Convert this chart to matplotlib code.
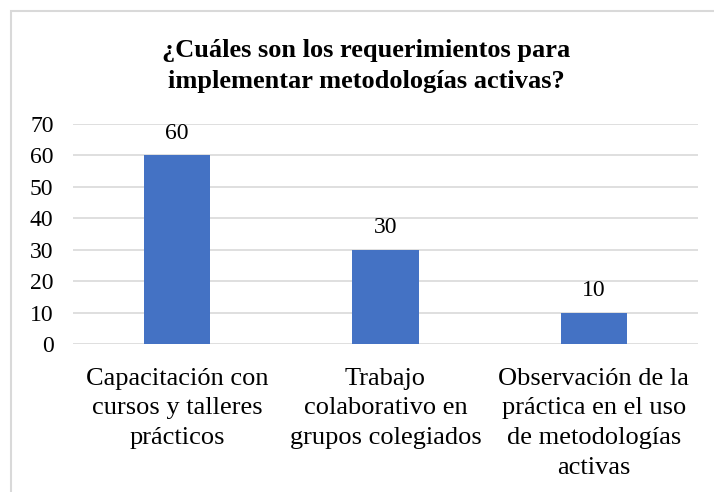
import matplotlib.pyplot as plt
from matplotlib.patches import Rectangle

categories = [
    "Capacitación con\ncursos y talleres\nprácticos",
    "Trabajo\ncolaborativo en\ngrupos colegiados",
    "Observación de la\npráctica en el uso\nde metodologías\nactivas",
]
values = [60, 30, 10]
yticks = [0, 10, 20, 30, 40, 50, 60, 70]
title = "¿Cuáles son los requerimientos para\nimplementar metodologías activas?"

plt.rcParams['font.family'] = ['Liberation Serif', 'DejaVu Serif']

W, H = 714, 492
fig = plt.figure(figsize=(W / 100, H / 100), dpi=100)

# chart frame (only left and top edges visible in the crop)
fig.patches.append(Rectangle((11 / W, -0.1), 1.2, (H - 11) / H + 0.1,
                             transform=fig.transFigure, fill=False,
                             edgecolor="#D9D9D9", linewidth=1.5))

ax = fig.add_axes([73 / W, (H - 344) / H, 625 / W, 220 / H])
x = range(len(categories))
bars = ax.bar(x, values, width=0.32, color="#4472C4", zorder=3)
for b, v in zip(bars, values):
    ax.text(b.get_x() + b.get_width() / 2, v + 3.6, str(v),
            ha="center", va="bottom", fontsize=17)

ax.set_xlim(-0.5, len(categories) - 0.5)
ax.set_ylim(0, 70)
ax.set_yticks(yticks)
ax.set_xticks(list(x))
ax.set_xticklabels(categories, fontsize=19, linespacing=1.45)
ax.tick_params(axis="y", labelsize=17, length=0, pad=14)
ax.tick_params(axis="x", length=0, pad=17)
ax.grid(axis="y", color="#D9D9D9", linewidth=1.2, zorder=0)
for s in ax.spines.values():
    s.set_visible(False)

fig.text(366 / W, 1 - 66 / H, title, ha="center", va="center",
         fontsize=19, fontweight="bold", linespacing=1.4)

fig.savefig("out.png", dpi=100)
